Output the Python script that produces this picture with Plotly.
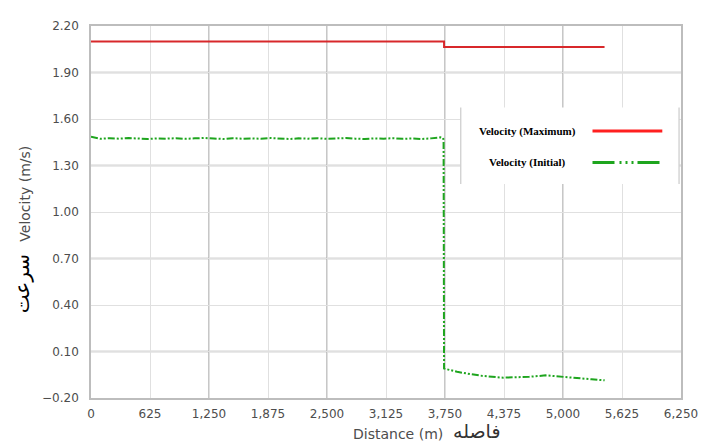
import plotly.graph_objects as go

# ---------------- data ----------------
max_dist = [0, 3740, 3740, 5440]
max_vel = [2.10, 2.10, 2.065, 2.065]

init_dist = [0, 100, 200, 300, 400, 500, 600, 700, 800, 900, 1000, 1100, 1200,
             1300, 1400, 1500, 1600, 1700, 1800, 1900, 2000, 2100, 2200, 2300,
             2400, 2500, 2600, 2700, 2800, 2900, 3000, 3100, 3200, 3300, 3400,
             3500, 3600, 3700, 3730, 3735, 3740,
             3878, 4018, 4156, 4365, 4538, 4643, 4816, 4885, 5024, 5163, 5302, 5441]
init_vel = [1.485, 1.472, 1.476, 1.473, 1.477, 1.474, 1.471, 1.475, 1.473, 1.476,
            1.472, 1.475, 1.478, 1.474, 1.471, 1.476, 1.473, 1.475, 1.472, 1.477,
            1.474, 1.471, 1.475, 1.473, 1.476, 1.472, 1.475, 1.477, 1.473, 1.471,
            1.475, 1.473, 1.476, 1.472, 1.474, 1.471, 1.475, 1.482, 1.478, 1.46, -0.01,
            -0.031, -0.046, -0.058, -0.069, -0.067, -0.063, -0.054, -0.058, -0.067,
            -0.075, -0.079, -0.086]

series_names = ["Velocity (Maximum)", "Velocity (Initial)"]
x_title = "Distance (m)"
x_title_fa = "فاصله"
y_title = "Velocity (m/s)"
y_title_fa = "سرعت"

x_dark_grid = [1250, 2500, 3750, 5000]
y_dark_grid = [1.90, 1.30, 0.70, 0.10]

RED = "#d8282b"
GREEN = "#1ea51e"
TICK_COLOR = "#4d4d4d"

fig = go.Figure()
fig.add_trace(go.Scatter(x=max_dist, y=max_vel, mode="lines", name=series_names[0],
                         line=dict(color=RED, width=2), showlegend=False))
fig.add_trace(go.Scatter(x=init_dist, y=init_vel, mode="lines", name=series_names[1],
                         line=dict(color=GREEN, width=2,
                                   dash="7px,2px,2px,2px,2px,2px"),
                         showlegend=False))

shapes = []
for xv in x_dark_grid:
    shapes.append(dict(type="line", xref="x", yref="paper", x0=xv, x1=xv, y0=0, y1=1,
                       line=dict(color="#a9a9a9", width=1.3), layer="below"))
for yv in y_dark_grid:
    shapes.append(dict(type="line", xref="paper", yref="y", x0=0, x1=1, y0=yv, y1=yv,
                       line=dict(color="#a9a9a9", width=1.3), layer="below"))

# legend box (custom, text left of symbol)
bx0, bx1, by0, by1 = 0.6267, 0.9967, 0.575, 0.781
shapes.append(dict(type="rect", xref="paper", yref="paper", x0=bx0, x1=bx1, y0=by0, y1=by1,
                   fillcolor="white", line=dict(width=0)))
for bx in (bx0, bx1):
    shapes.append(dict(type="line", xref="paper", yref="paper", x0=bx, x1=bx, y0=by0, y1=by1,
                       line=dict(color="#cfcfcf", width=1.3)))
leg_y = [0.7177, 0.6332]
shapes.append(dict(type="line", xref="paper", yref="paper", x0=0.85, x1=0.9683,
                   y0=leg_y[0], y1=leg_y[0], line=dict(color="#ff2020", width=3)))
shapes.append(dict(type="line", xref="paper", yref="paper", x0=0.85, x1=0.9683,
                   y0=leg_y[1], y1=leg_y[1],
                   line=dict(color=GREEN, width=3, dash="22px,5px,2px,4px,2px,4px,2px,4px")))

annotations = []
for name, ly in zip(series_names, leg_y):
    annotations.append(dict(text="<b>" + name + "</b>", xref="paper", yref="paper",
                            x=0.74, y=ly, xanchor="center", yanchor="middle", showarrow=False,
                            font=dict(family="Liberation Serif", size=11, color="black")))
annotations.append(dict(text=y_title, xref="paper", yref="paper", x=-0.112, y=0.549,
                        textangle=-90, xanchor="center", yanchor="middle", showarrow=False,
                        font=dict(family="DejaVu Sans", size=14, color=TICK_COLOR)))
annotations.append(dict(text=y_title_fa, xref="paper", yref="paper", x=-0.1167, y=0.306,
                        textangle=-90, xanchor="center", yanchor="middle", showarrow=False,
                        font=dict(family="DejaVu Sans", size=20, color="black")))
annotations.append(dict(text=x_title, xref="paper", yref="paper", x=0.6, y=-0.124,
                        xanchor="right", yanchor="bottom", showarrow=False,
                        font=dict(family="DejaVu Sans", size=14, color=TICK_COLOR)))
annotations.append(dict(text=x_title_fa, xref="paper", yref="paper", x=0.61, y=-0.124,
                        xanchor="left", yanchor="bottom", showarrow=False,
                        font=dict(family="DejaVu Sans", size=19, color="#333333")))

# page body has an 8px margin, so the figure is sized to fit the window from there
fig.update_layout(
    width=701, height=437,
    margin=dict(l=83, r=18, t=11, b=47),
    paper_bgcolor="white", plot_bgcolor="white",
    shapes=shapes, annotations=annotations,
    xaxis=dict(range=[0, 6250], tick0=0, dtick=625, tickformat=",",
               showgrid=True, gridcolor="#e0e0e0", gridwidth=1,
               showline=True, linecolor="#bdbdbd", linewidth=1.5, mirror=True,
               zeroline=False, ticks="", ticklabelstandoff=4,
               tickfont=dict(family="DejaVu Sans", size=12, color=TICK_COLOR)),
    yaxis=dict(range=[-0.2, 2.2], tick0=-0.2, dtick=0.3, tickformat=".2f",
               showgrid=True, gridcolor="#e0e0e0", gridwidth=1,
               showline=True, linecolor="#bdbdbd", linewidth=1.5, mirror=True,
               zeroline=False, ticks="", ticklabelstandoff=8,
               tickfont=dict(family="DejaVu Sans", size=12, color=TICK_COLOR)),
)

fig.write_html("out.html")
